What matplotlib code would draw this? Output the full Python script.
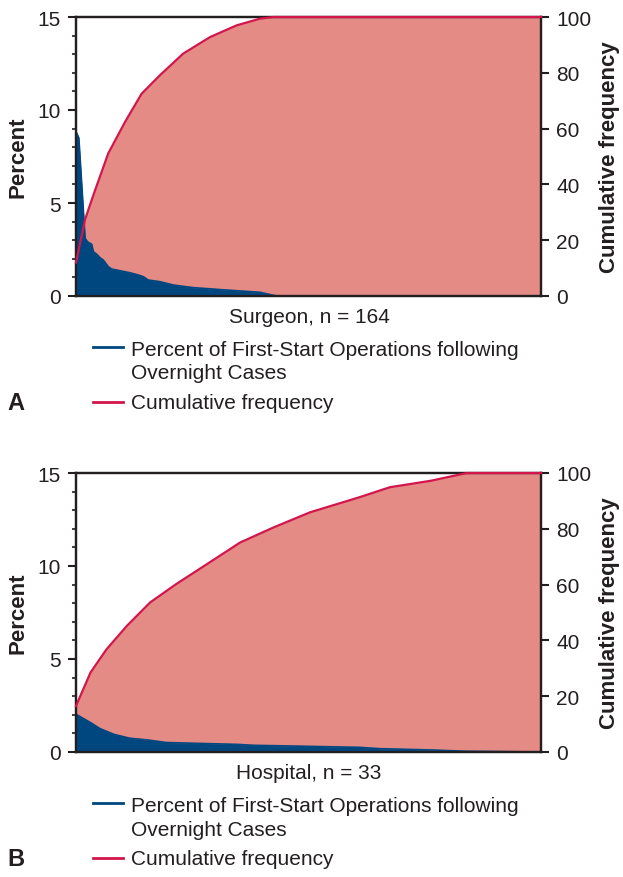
import numpy as np
import matplotlib
matplotlib.use("Agg")
import matplotlib.pyplot as plt
from matplotlib.lines import Line2D

plt.rcParams['font.family'] = ['Liberation Sans', 'DejaVu Sans']

# Panel A - surgeons (n = 164), ranked
surg_pct_rank = [1, 2, 4.2, 5.0, 6.5, 7.1, 8.3, 9.4, 10.6, 12.3, 13.5, 19.9, 22.8, 24.6,
                 26.3, 30.4, 35.1, 42.1, 53.8, 65.5, 71.3, 164]
surg_pct = [8.83, 8.5, 3.1, 2.92, 2.78, 2.38, 2.24, 2.06, 1.93, 1.58, 1.45, 1.25, 1.13, 1.04,
            0.86, 0.77, 0.59, 0.45, 0.32, 0.2, 0.0, 0.0]
surg_cum_rank = [1, 4.2, 7.1, 12.3, 18.2, 24, 30.4, 38.6, 48, 57.3, 65.5, 70.2, 164]
surg_cum = [12.0, 27.5, 36.2, 51.1, 62.4, 72.5, 79.1, 86.9, 92.8, 97.0, 99.4, 100, 100]

# Panel B - hospitals (n = 33), ranked
hosp_pct_rank = [1, 2.0, 2.65, 3.6, 4.7, 5.9, 7.2, 9.1, 12.1, 13.2, 16, 20.5, 21.9, 25.4, 27.9, 33]
hosp_pct = [2.03, 1.58, 1.26, 0.95, 0.74, 0.65, 0.51, 0.47, 0.41, 0.36, 0.32, 0.25, 0.18,
            0.11, 0.04, 0.0]
hosp_cum_rank = [1, 2, 3.1, 4.5, 6.1, 7.9, 10, 12.3, 14.6, 17.1, 20.5, 22.6, 25.4, 27.9, 33]
hosp_cum = [16.5, 28.5, 36.8, 45.2, 53.6, 60.2, 67.3, 75.1, 80.5, 85.9, 91.3, 94.9, 97.2, 100, 100]

panels = [
    dict(n=164, pr=surg_pct_rank, p=surg_pct, cr=surg_cum_rank, c=surg_cum,
         xlabel="Surgeon, n = 164", letter="A", top=18, bottom=297),
    dict(n=33, pr=hosp_pct_rank, p=hosp_pct, cr=hosp_cum_rank, c=hosp_cum,
         xlabel="Hospital, n = 33", letter="B", top=474, bottom=753),
]

BLUE = "#00467f"
PINK = "#e48b86"
RED = "#d2154a"
INK = "#231f20"

W, H = 623, 878
fig = plt.figure(figsize=(W / 100, H / 100), dpi=100)

def fx(px):
    return px / W

def fy(py):
    return 1 - py / H

for pn in panels:
    top, bot = pn["top"], pn["bottom"]
    ax = fig.add_axes([fx(76), fy(bot), fx(541) - fx(76), fy(top) - fy(bot)])
    ax2 = ax.twinx()
    ax3 = ax.twinx()

    # pink cumulative area underneath, blue percent on top, red line over all
    ax2.set_zorder(1)
    ax.set_zorder(2)
    ax3.set_zorder(3)
    ax.patch.set_visible(False)
    ax3.patch.set_visible(False)

    ax2.fill_between(pn["cr"], pn["c"], 0, color=PINK, lw=0)
    ax.fill_between(pn["pr"], pn["p"], 0, color=BLUE, lw=0)
    ax.plot(pn["pr"], pn["p"], color=BLUE, lw=1.2)
    ax3.plot(pn["cr"], pn["c"], color=RED, lw=1.6, clip_on=False)

    for a in (ax, ax2, ax3):
        a.set_xlim(1, pn["n"])
    ax.set_ylim(0, 15)
    ax2.set_ylim(0, 100)
    ax3.set_ylim(0, 100)
    ax3.axis("off")

    ax.set_yticks([0, 5, 10, 15])
    ax.set_yticks(np.arange(0, 16, 1), minor=True)
    ax2.set_yticks([0, 20, 40, 60, 80, 100])
    ax.set_xticks([])
    ax.tick_params(axis="y", which="major", length=6, width=1.5, labelsize=15,
                   colors=INK, pad=5)
    ax.tick_params(axis="y", which="minor", length=3, width=1.2, colors=INK)
    ax2.tick_params(axis="y", which="major", length=6, width=1.5, labelsize=15,
                    colors=INK, pad=5)
    for a in (ax, ax2):
        for s in a.spines.values():
            s.set_linewidth(1.6)
            s.set_color(INK)

    ymid = (top + bot) / 2
    fig.text(fx(18), fy(ymid), "Percent", rotation=90, ha="center", va="center",
             fontsize=16, fontweight="bold", color=INK)
    fig.text(fx(610), fy(ymid), "Cumulative frequency", rotation=90, ha="center",
             va="center", fontsize=16, fontweight="bold", color=INK)

    fig.text(fx(309), fy(bot + 21), pn["xlabel"], ha="center", va="center",
             fontsize=15, color=INK)

    # legend drawn by hand
    l1, l2, l3 = bot + 54, bot + 77, bot + 107
    fig.add_artist(Line2D([fx(93), fx(123)], [fy(l1 - 3), fy(l1 - 3)], color=BLUE, lw=2))
    fig.add_artist(Line2D([fx(93), fx(123)], [fy(l3 - 1), fy(l3 - 1)], color=RED, lw=2))
    fig.text(fx(131), fy(l1), "Percent of First-Start Operations following",
             ha="left", va="center", fontsize=15, color=INK)
    fig.text(fx(131), fy(l2), "Overnight Cases", ha="left", va="center",
             fontsize=15, color=INK)
    fig.text(fx(131), fy(l3), "Cumulative frequency", ha="left", va="center",
             fontsize=15, color=INK)
    fig.text(fx(16), fy(l3), pn["letter"], ha="center", va="center",
             fontsize=17, fontweight="bold", color=INK)

fig.savefig("out.png", dpi=100)
